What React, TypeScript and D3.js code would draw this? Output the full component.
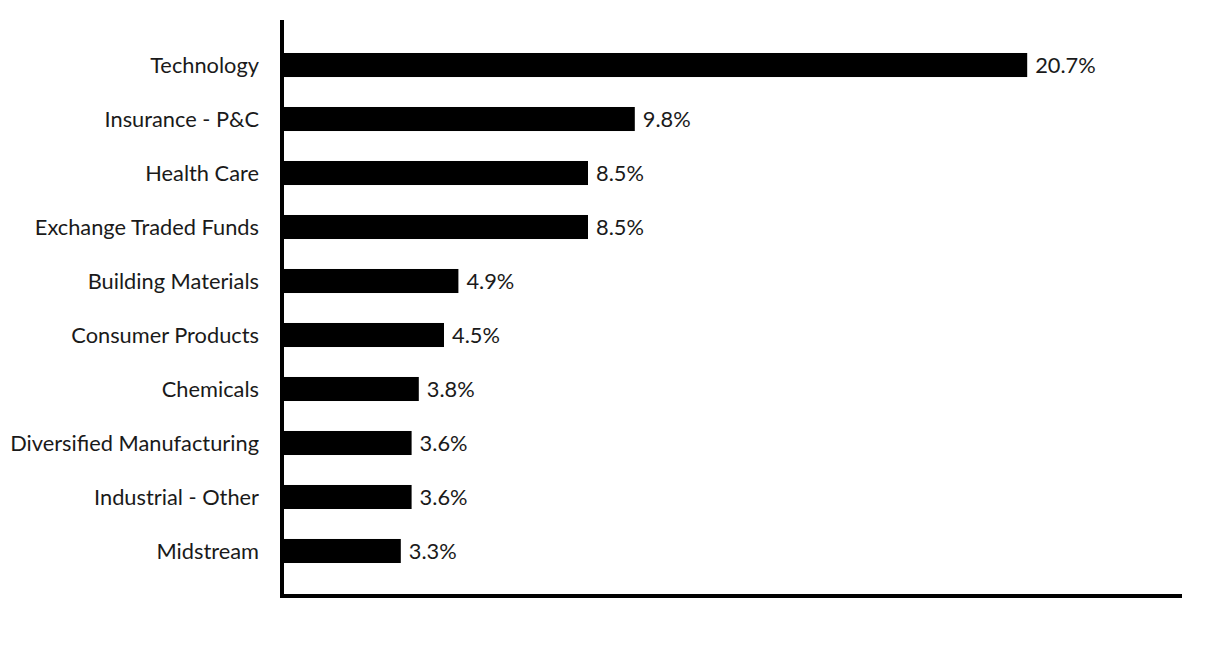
import React from "react";
import * as d3 from "d3";

const categories = [
  "Technology",
  "Insurance - P&C",
  "Health Care",
  "Exchange Traded Funds",
  "Building Materials",
  "Consumer Products",
  "Chemicals",
  "Diversified Manufacturing",
  "Industrial - Other",
  "Midstream",
];
const values = [20.7, 9.8, 8.5, 8.5, 4.9, 4.5, 3.8, 3.6, 3.6, 3.3];
const xDomain = [0, 25];

const W = 1212;
const H = 660;
const x0 = 282;
const x1 = 1182;
const yTop = 20;
const yBot = 596;

export default function App() {
  const x = d3.scaleLinear().domain(xDomain).range([x0, x1]);
  const y = d3
    .scaleBand<string>()
    .domain(categories)
    .range([yTop, yBot])
    .paddingInner(0.555)
    .paddingOuter(0.611);
  const font = "Lato, 'Open Sans', sans-serif";
  return (
    <svg
      width={W}
      height={H}
      style={{ position: "absolute", left: 0, top: 0 }}
      fontFamily={font}
    >
      <rect width={W} height={H} fill="#fff" />
      {categories.map((c, i) => {
        const yy = y(c)!;
        const bw = y.bandwidth();
        return (
          <g key={c}>
            <rect x={x(0)} y={yy} width={x(values[i]) - x(0)} height={bw} fill="#000" />
            <text
              x={259}
              y={yy + bw / 2}
              dy="0.38em"
              textAnchor="end"
              fontSize={21.8}
              fill="#1a1a1a"
            >
              {c}
            </text>
            <text
              x={x(values[i]) + 8}
              y={yy + bw / 2}
              dy="0.38em"
              fontSize={21.8}
              fill="#1a1a1a"
            >
              {d3.format(".1f")(values[i])}%
            </text>
          </g>
        );
      })}
      <line x1={x0} x2={x0} y1={yTop} y2={yBot + 2} stroke="#000" strokeWidth={4} />
      <line x1={x0 - 2} x2={x1} y1={yBot} y2={yBot} stroke="#000" strokeWidth={4} />
    </svg>
  );
}
